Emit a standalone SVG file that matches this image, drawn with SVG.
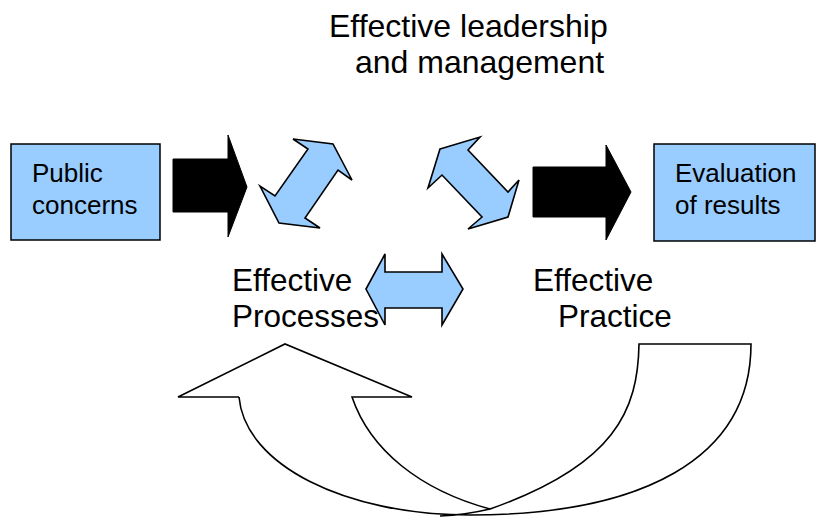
<svg xmlns="http://www.w3.org/2000/svg" width="817" height="517" viewBox="0 0 817 517">
<style>
.box{fill:#99CCFF;stroke:#000;stroke-width:1.5}
.blue{fill:#99CCFF;stroke:#000;stroke-width:1.6;stroke-linejoin:miter}
.black{fill:#000;stroke:#000;stroke-width:1}
.outline{fill:none;stroke:#000;stroke-width:1.6}
text{font-family:"Liberation Sans",Arial,sans-serif;fill:#000}
.big{font-size:31.5px}
.title{font-size:32px}
.small{font-size:26px}
</style>
<rect width="817" height="517" fill="#fff"/>
<g id="title">
<text class="title" x="329" y="37">Effective leadership</text>
<text class="title" x="355" y="73">and management</text>
</g>
<g id="public-concerns">
<rect class="box" x="11" y="144" width="149" height="96"/>
<text class="small" x="32" y="182">Public</text>
<text class="small" x="32" y="214">concerns</text>
</g>
<g id="evaluation">
<rect class="box" x="654" y="144" width="161" height="97"/>
<text class="small" x="675" y="182">Evaluation</text>
<text class="small" x="675" y="214">of results</text>
</g>
<g id="effective-processes">
<text class="big" x="232" y="291">Effective</text>
<text class="big" x="232" y="327">Processes</text>
</g>
<g id="effective-practice">
<text class="big" x="533" y="291">Effective</text>
<text class="big" x="558" y="327">Practice</text>
</g>
<g id="connectors">
<polygon class="black" points="173,159 228,159 228,135 247,187 228,237 228,212 173,212"/>
<polygon class="black" points="533,167 606,167 606,145 631,192 606,240 606,217 533,217"/>
<polygon class="blue" points="293,139 333,144 352,180 338,170 305,218 320,228 279,223 260,186 275,196 308,149"/>
<polygon class="blue" points="440,149 480,137 468,150 508,192 519,180 508,217 468,229 482,217 442,175 428,188"/>
<polygon class="blue" points="366,289 385,254 385,272 442,272 442,254 463,289 442,325 442,308 385,308 385,325"/>
<path fill="#fff" stroke="none" d="M239,397 L178,397 L285,344 L412,397 L352,397 C370,450 420,490 490,509 C615,465 638,410 639,344 L751,344 C751,460 640,515 470,515 C345,515 245,465 239,397 Z"/>
<path class="outline" d="M239,397 L178,397 L285,344 L412,397 L352,397 C370,450 420,490 490,509"/>
<path class="outline" d="M239,397 C245,465 345,515 470,515 C640,515 751,460 751,344 L639,344 C638,410 615,465 490,509 Q465,515 440,516"/>
</g>
</svg>
